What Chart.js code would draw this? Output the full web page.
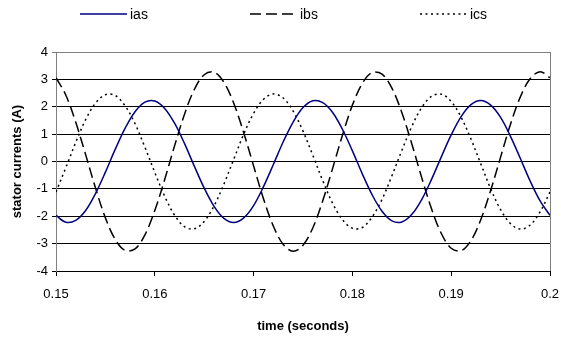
<!DOCTYPE html>
<html>
<head>
<meta charset="utf-8">
<script src="https://cdn.jsdelivr.net/npm/chart.js@4.4.0/dist/chart.umd.min.js"></script>
<style>
  html, body { margin: 0; padding: 0; background: #fff; }
</style>
</head>
<body>
<canvas id="chart" width="561" height="337"></canvas>
<script>
// stator currents, one sample per ms
const TIME = [0.150, 0.151, 0.152, 0.153, 0.154, 0.155, 0.156, 0.157, 0.158, 0.159,
  0.160, 0.161, 0.162, 0.163, 0.164, 0.165, 0.166, 0.167, 0.168, 0.169,
  0.170, 0.171, 0.172, 0.173, 0.174, 0.175, 0.176, 0.177, 0.178, 0.179,
  0.180, 0.181, 0.182, 0.183, 0.184, 0.185, 0.186, 0.187, 0.188, 0.189,
  0.190, 0.191, 0.192, 0.193, 0.194, 0.195, 0.196, 0.197, 0.198, 0.199, 0.200];

const IAS = [-1.97, -2.22, -2.15, -1.79, -1.17, -0.39, 0.45, 1.22, 1.82, 2.17,
  2.21, 1.94, 1.40, 0.66, -0.17, -0.97, -1.64, -2.08, -2.23, -2.06,
  -1.61, -0.92, -0.11, 0.72, 1.44, 1.97, 2.22, 2.15, 1.79, 1.17,
  0.39, -0.45, -1.22, -1.82, -2.17, -2.21, -1.94, -1.40, -0.66, 0.17,
  0.97, 1.64, 2.08, 2.23, 2.06, 1.61, 0.92, 0.11, -0.72, -1.44, -1.97];

const IBS = [3.06, 2.42, 1.43, 0.25, -0.97, -2.06, -2.85, -3.25, -3.19, -2.68,
  -1.79, -0.66, 0.57, 1.72, 2.63, 3.17, 3.26, 2.89, 2.12, 1.05,
  -0.16, -1.36, -2.36, -3.03, -3.28, -3.06, -2.42, -1.43, -0.25, 0.97,
  2.06, 2.85, 3.25, 3.19, 2.68, 1.79, 0.66, -0.57, -1.72, -2.63,
  -3.17, -3.26, -2.89, -2.12, -1.05, 0.16, 1.36, 2.36, 3.03, 3.28, 3.06];

const ICS = [-1.11, -0.22, 0.70, 1.53, 2.13, 2.44, 2.41, 2.03, 1.38, 0.52,
  -0.40, -1.27, -1.96, -2.38, -2.46, -2.19, -1.62, -0.82, 0.09, 1.00,
  1.76, 2.27, 2.47, 2.32, 1.84, 1.11, 0.22, -0.70, -1.53, -2.13,
  -2.44, -2.41, -2.03, -1.38, -0.52, 0.40, 1.27, 1.96, 2.38, 2.46,
  2.19, 1.62, 0.82, -0.09, -1.00, -1.76, -2.27, -2.47, -2.32, -1.84, -1.11];

const SERIES_NAMES = ['ias', 'ibs', 'ics'];
const X_TICKS = [0.15, 0.16, 0.17, 0.18, 0.19, 0.2];
const Y_TICKS = [-4, -3, -2, -1, 0, 1, 2, 3, 4];

const FONT = '"Liberation Sans", Arial, sans-serif';
Chart.defaults.font.family = FONT;
Chart.defaults.color = '#000';

const toPoints = (ys) => TIME.map((t, i) => ({ x: t, y: ys[i] }));

// legend drawn by hand so the three entries sit where the original has them
const lineLegend = {
  id: 'lineLegend',
  afterDraw(chart) {
    const ctx = chart.ctx;
    const starts = [80, 250, 420];
    ctx.save();
    ctx.font = '14px ' + FONT;
    ctx.textBaseline = 'middle';
    chart.data.datasets.forEach((ds, i) => {
      const x = starts[i], y = 14;
      ctx.beginPath();
      ctx.setLineDash(ds.borderDash || []);
      ctx.strokeStyle = ds.borderColor;
      ctx.lineWidth = ds.borderWidth;
      ctx.moveTo(x, y);
      ctx.lineTo(x + 47, y);
      ctx.stroke();
      ctx.setLineDash([]);
      ctx.fillStyle = '#000';
      ctx.fillText(ds.label, x + 50, y + 1);
    });
    ctx.restore();
  }
};

// grey frame line on the right of the plot area
const rightEdge = {
  id: 'rightEdge',
  beforeDatasetsDraw(chart) {
    const { ctx, chartArea: a } = chart;
    ctx.save();
    ctx.strokeStyle = '#808080';
    ctx.lineWidth = 1;
    ctx.beginPath();
    ctx.moveTo(Math.round(a.right) + 0.5, a.top);
    ctx.lineTo(Math.round(a.right) + 0.5, a.bottom);
    ctx.stroke();
    ctx.restore();
  }
};

new Chart(document.getElementById('chart'), {
  type: 'line',
  data: {
    datasets: [
      { label: SERIES_NAMES[0], data: toPoints(IAS), borderColor: '#000080', borderWidth: 1.5 },
      { label: SERIES_NAMES[1], data: toPoints(IBS), borderColor: '#000', borderWidth: 1.5, borderDash: [11, 5] },
      { label: SERIES_NAMES[2], data: toPoints(ICS), borderColor: '#000', borderWidth: 1.5, borderDash: [2, 3.5] }
    ]
  },
  options: {
    responsive: false,
    animation: false,
    layout: { padding: { top: 52, right: 11, left: 0, bottom: 0 } },
    elements: {
      point: { radius: 0 },
      line: { tension: 0.35, fill: false }
    },
    plugins: {
      legend: { display: false },
      tooltip: { enabled: false }
    },
    scales: {
      x: {
        type: 'linear',
        min: 0.15,
        max: 0.2,
        afterBuildTicks: (s) => { s.ticks = X_TICKS.map(v => ({ value: v })); },
        afterFit: (s) => {
          s.height = 66;
          s.paddingLeft = 0;
          s.paddingRight = 0;
        },
        ticks: { font: { size: 13 }, padding: 11, maxRotation: 0, autoSkip: false, callback: (v) => String(v) },
        grid: { drawOnChartArea: false, drawTicks: true, tickLength: 5, color: '#000' },
        border: { color: '#000' },
        title: { display: true, text: 'time (seconds)', font: { size: 13, weight: 'bold' }, padding: { top: 0, bottom: 3 } }
      },
      y: {
        min: -4,
        max: 4,
        afterBuildTicks: (s) => { s.ticks = Y_TICKS.map(v => ({ value: v })); },
        afterFit: (s) => { s.width = 56; },
        ticks: { font: { size: 13 }, padding: 4 },
        grid: {
          color: (c) => (c.tick && c.tick.value === 4 ? '#808080' : '#000'),
          tickLength: 4
        },
        border: { color: '#808080' },
        title: { display: true, text: 'stator currents (A)', font: { size: 13, weight: 'bold' }, padding: { top: 10, bottom: 0 } }
      }
    }
  },
  plugins: [lineLegend, rightEdge]
});
</script>
</body>
</html>
